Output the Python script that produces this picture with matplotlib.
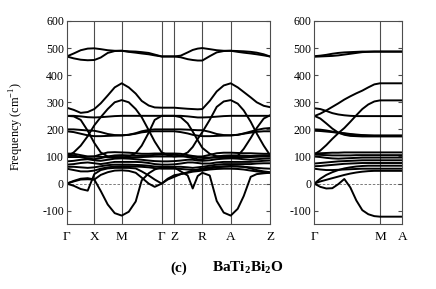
import matplotlib
matplotlib.use("Agg")
import matplotlib.pyplot as plt

plt.rcParams['font.family'] = ['Liberation Serif', 'DejaVu Serif']
plt.rcParams['mathtext.fontset'] = 'custom'
plt.rcParams['mathtext.rm'] = 'Liberation Serif'
plt.rcParams['mathtext.bf'] = 'Liberation Serif:bold'
plt.rcParams['axes.unicode_minus'] = False

# ---- left panel: path G-X-M-G-Z-R-A-Z (distances along path) ----
k_left = [0, 7, 14, 21, 27.6, 34, 41, 48, 55, 62, 69, 75, 82, 88, 95, 101, 107.6,
          114, 121, 126, 131, 135.6, 143, 150, 157, 164, 171, 177, 184, 190, 197, 203.3]
ticks_left = [0, 27.6, 55, 95, 107.6, 135.6, 164, 203.3]
labels_left = ['Γ', 'X', 'M', 'Γ', 'Z', 'R', 'A', 'Z']

top1 = [469, 480, 492, 498, 499, 496, 492, 490, 490, 488, 487, 485, 482, 476, 469, 469, 469,
        472, 484, 493, 498, 500, 496, 492, 490, 490, 489, 488, 486, 483, 477, 469]
top2 = [469, 462, 457, 455, 456, 465, 482, 489, 490, 486, 483, 480, 477, 473, 469, 469, 469,
        466, 459, 456, 454, 454, 470, 484, 489, 490, 486, 483, 480, 477, 473, 469]
dome_outer = [280, 272, 261, 264, 275, 296, 325, 355, 370, 355, 332, 305, 288, 281, 280, 280, 280,
              278, 276, 275, 274, 275, 305, 340, 362, 370, 355, 338, 318, 300, 287, 282]
dome_inner = [100, 115, 140, 175, 215, 245, 275, 300, 308, 300, 275, 245, 197, 155, 115, 105, 100,
              103, 115, 135, 165, 190, 235, 283, 303, 308, 295, 270, 228, 185, 140, 105]
flat250 = [250, 250, 248, 245, 244, 245, 247, 249, 250, 250, 250, 250, 250, 250, 250, 250, 250,
           250, 248, 246, 244, 244, 245, 247, 249, 250, 250, 250, 250, 250, 250, 250]
steep1 = [250, 248, 235, 195, 150, 115, 100, 98, 98, 97, 97, 98, 99, 100, 100, 100, 100,
          100, 100, 99, 98, 97, 96, 96, 97, 98, 98, 98, 98, 99, 100, 100]
steep2 = [98, 98, 98, 99, 100, 99, 97, 96, 95, 100, 112, 140, 188, 235, 250, 250, 250,
          245, 222, 192, 160, 132, 110, 101, 100, 100, 102, 128, 168, 205, 240, 252]
mid200a = [200, 200, 198, 196, 195, 190, 183, 179, 178, 180, 186, 193, 198, 200, 200, 200, 200,
           200, 199, 198, 197, 197, 191, 183, 179, 178, 180, 185, 192, 198, 203, 205]
mid200b = [193, 190, 184, 178, 175, 175, 176, 177, 178, 180, 184, 189, 192, 193, 193, 193, 193,
           190, 185, 180, 177, 175, 175, 176, 177, 178, 180, 184, 188, 191, 193, 193]
ac1 = [0, -8, -20, -26, 35, 50, 56, 58, 58, 58, 56, 45, 30, 15, 0, 15, 25,
       35, 42, 48, 52, 56, 60, 63, 64, 65, 64, 62, 56, 50, 45, 42]
ac2 = [0, 8, 15, 16, 15, -27, -77, -109, -118, -104, -66, 12, 38, 52, 60, 60, 60,
       45, 30, -18, 28, 40, 30, -64, -107, -118, -93, -46, 25, 35, 38, 40]
ac3 = [0, 10, 18, 20, 15, 32, 42, 48, 49, 47, 40, 22, 0, -12, 0, 18, 31,
       35, 40, 44, 46, 48, 52, 54, 55, 55, 54, 52, 48, 45, 42, 40]
low1 = [111, 110, 105, 100, 100, 108, 115, 116, 115, 114, 112, 110, 110, 111, 111, 111, 111,
        110, 105, 102, 100, 100, 106, 112, 114, 114, 113, 112, 112, 111, 110, 110]
low2 = [107, 104, 98, 92, 90, 94, 100, 104, 105, 104, 103, 103, 104, 106, 107, 107, 107,
        104, 98, 94, 90, 90, 95, 100, 103, 104, 104, 103, 102, 103, 104, 104]
low3 = [82, 84, 88, 90, 86, 84, 88, 92, 93, 92, 90, 88, 85, 83, 82, 82, 83,
        85, 88, 88, 85, 84, 86, 90, 92, 93, 92, 90, 88, 90, 92, 93]
low4 = [70, 72, 76, 78, 75, 72, 76, 80, 80, 80, 80, 79, 76, 72, 70, 70, 71,
        74, 78, 78, 76, 74, 74, 78, 80, 80, 80, 80, 80, 82, 84, 85]
low5 = [62, 62, 60, 58, 60, 64, 68, 70, 70, 70, 69, 68, 66, 63, 62, 62, 62,
        62, 60, 58, 60, 62, 66, 70, 72, 72, 72, 72, 72, 74, 75, 75]
low6 = [55, 50, 45, 45, 48, 55, 60, 63, 64, 64, 63, 62, 60, 57, 55, 55, 55,
        54, 52, 50, 50, 52, 56, 60, 62, 63, 63, 62, 60, 58, 56, 55]

branches_left = [top1, top2, dome_outer, dome_inner, flat250, steep1, steep2, mid200a, mid200b,
                 ac1, ac2, ac3, low1, low2, low3, low4, low5, low6]

# ---- right panel: path G-M-A ----
k_right = [0, 6, 12, 18, 24, 30, 36, 42, 48, 54, 60, 65.7, 88]
ticks_right = [0, 65.7, 88]
labels_right = ['Γ', 'M', 'A']

r_top1 = [470, 472, 475, 479, 482, 484, 485, 486, 487, 487, 487, 487, 487]
r_top2 = [468, 469, 470, 471, 473, 476, 479, 482, 485, 486, 487, 487, 487]
r_dome_outer = [249, 258, 270, 283, 296, 310, 322, 333, 343, 355, 366, 370, 370]
r_dome_inner = [108, 122, 142, 165, 186, 205, 228, 252, 275, 292, 303, 307, 307]
r_280 = [278, 275, 268, 260, 255, 252, 250, 249, 249, 249, 249, 249, 249]
r_steep = [250, 240, 222, 203, 188, 180, 176, 175, 174, 174, 174, 174, 174]
r_200a = [200, 199, 196, 192, 188, 186, 183, 181, 179, 178, 177, 177, 177]
r_200b = [195, 194, 192, 190, 187, 184, 181, 179, 178, 177, 177, 177, 177]
r_low1 = [111, 112, 113, 114, 114, 115, 115, 115, 115, 115, 115, 115, 115]
r_low2 = [107, 106, 105, 104, 104, 104, 104, 105, 105, 105, 105, 105, 105]
r_low3 = [100, 98, 95, 93, 92, 93, 94, 95, 96, 96, 96, 96, 96]
r_low4 = [74, 76, 78, 80, 82, 83, 84, 85, 86, 86, 86, 86, 86]
r_low5 = [64, 65, 67, 69, 71, 73, 74, 75, 76, 76, 76, 76, 76]
r_low6 = [55, 52, 50, 50, 51, 52, 53, 54, 55, 55, 55, 55, 55]
r_imag = [0, -12, -18, -17, -2, 17, -14, -62, -98, -113, -120, -122, -122]
r_ac1 = [0, 8, 14, 20, 26, 32, 37, 41, 44, 46, 47, 47, 47]
r_ac2 = [0, 18, 32, 42, 50, 56, 60, 63, 65, 66, 66, 66, 66]

branches_right = [r_top1, r_top2, r_dome_outer, r_dome_inner, r_280, r_steep, r_200a, r_200b,
                  r_low1, r_low2, r_low3, r_low4, r_low5, r_low6, r_imag, r_ac1, r_ac2]

fig = plt.figure(figsize=(4.36, 2.89), dpi=100)
ax1 = fig.add_axes([0.153, 0.224, 0.4663, 0.7035])
ax2 = fig.add_axes([0.7209, 0.224, 0.2018, 0.7035])

panels = [(ax1, k_left, branches_left, ticks_left, labels_left),
          (ax2, k_right, branches_right, ticks_right, labels_right)]

for ax, k, branches, ticks, labels in panels:
    for t in ticks[1:-1]:
        ax.axvline(t, color='0.3', lw=0.8, zorder=1)
    ax.axhline(0, color='0.4', lw=0.6, ls=(0, (3, 2)), zorder=1)
    for f in branches:
        ax.plot(k, f, color='black', lw=1.4, solid_joinstyle='round', zorder=2)
    ax.set_xlim(ticks[0], ticks[-1])
    ax.set_ylim(-150, 600)
    ax.set_xticks(ticks, labels)
    ax.set_yticks(range(-100, 601, 100))
    ax.tick_params(axis='x', length=0, pad=5, labelsize=9.5)
    ax.tick_params(axis='y', direction='in', length=3, right=True, labelsize=8.5, pad=2,
                   color='0.3')
    for s in ax.spines.values():
        s.set_color('0.3')
        s.set_linewidth(0.8)

ax1.set_ylabel('Frequency (cm$^{-1}$)', fontsize=8.8)
ax1.yaxis.set_label_coords(-0.2, 0.48)

fig.text(0.4106, 0.0727, '(c)', fontsize=11, fontweight='bold', ha='center', va='center')
fig.text(0.486, 0.0727, r'$\mathbf{BaTi_2Bi_2O}$', fontsize=11, ha='left', va='center')

fig.savefig('out.png', dpi=100)
